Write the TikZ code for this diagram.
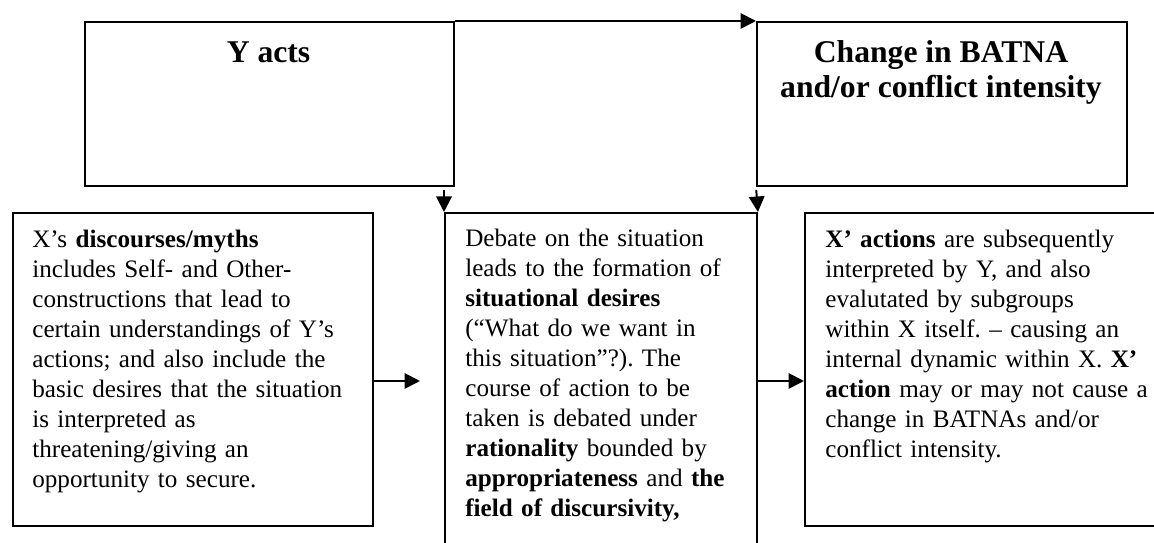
\documentclass[tikz,border=0pt]{standalone}
\usepackage{fontspec}
\setmainfont{Liberation Serif}
\usetikzlibrary{arrows.meta}
\frenchspacing

\begin{document}
\begin{tikzpicture}[
  box/.style={draw,line width=1.1pt,rectangle,inner sep=0pt,anchor=north west},
  arr/.style={line width=1.1pt,-{Triangle[length=0.31cm,width=0.31cm]}},
  title/.style={anchor=north,inner sep=0pt,align=center,font=\fontsize{18}{19.9}\selectfont\bfseries},
  body/.style={anchor=north west,inner sep=0pt,text width=7.5cm,align=left,font=\fontsize{14.3}{17.07}\selectfont}]
\useasboundingbox (0,0) rectangle (23.08,-10.86);
\clip (0,0) rectangle (23.08,-10.86);
\node[box,minimum width=7.38cm,minimum height=3.28cm] (yacts) at (1.68,-0.42) {};
\node[box,minimum width=7.40cm,minimum height=3.28cm] (change) at (15.12,-0.42) {};
\node[box,minimum width=7.20cm,minimum height=6.26cm] (myths) at (0.24,-4.24) {};
\node[box,minimum width=6.24cm,minimum height=7.20cm] (debate) at (8.88,-4.24) {};
\node[box,minimum width=7.50cm,minimum height=6.26cm] (xact) at (16.08,-4.24) {};
\node[title] (yactsT) at (5.37,-0.75) {\strut Y acts};
\node[title] (changeT) at (18.82,-0.75) {\strut Change in BATNA\\and/or conflict intensity};
\node[body] (mythsT) at (0.64,-4.52) {\strut X's \textbf{discourses/myths}\\
includes Self- and Other-\\
constructions that lead to\\
certain understandings of Y's\\
actions; and also include the\\
basic desires that the situation\\
is interpreted as\\
threatening/giving an\\
opportunity to secure.};
\node[body] (debateT) at (9.30,-4.50) {\strut Debate on the situation\\
leads to the formation of\\
\textbf{situational desires}\\
(``What do we want in\\
this situation''?). The\\
course of action to be\\
taken is debated under\\
\textbf{rationality} bounded by\\
\textbf{appropriateness} and \textbf{the}\\
\textbf{field of discursivity,}};
\node[body] (xactT) at (16.50,-4.52) {\strut\textbf{X' actions} are subsequently\\
interpreted by Y, and also\\
evalutated by subgroups\\
within X itself. -- causing an\\
internal dynamic within X. \textbf{X'}\\
\textbf{action} may or may not cause a\\
change in BATNAs and/or\\
conflict intensity.};
\coordinate (row) at (0,-7.62);
\coordinate (tipL) at (8.40,-7.62);
\draw[arr] (yacts.north east) -- (change.north west);
\draw[arr,shorten <=0.06cm] (debate.north west |- yacts.south) -- (debate.north west);
\draw[arr,shorten <=0.06cm] (change.south west) -- (debate.north east);
\draw[arr] (myths.east |- row) -- (tipL);
\draw[arr] (debate.east |- row) -- (xact.west |- row);
\end{tikzpicture}
\end{document}
